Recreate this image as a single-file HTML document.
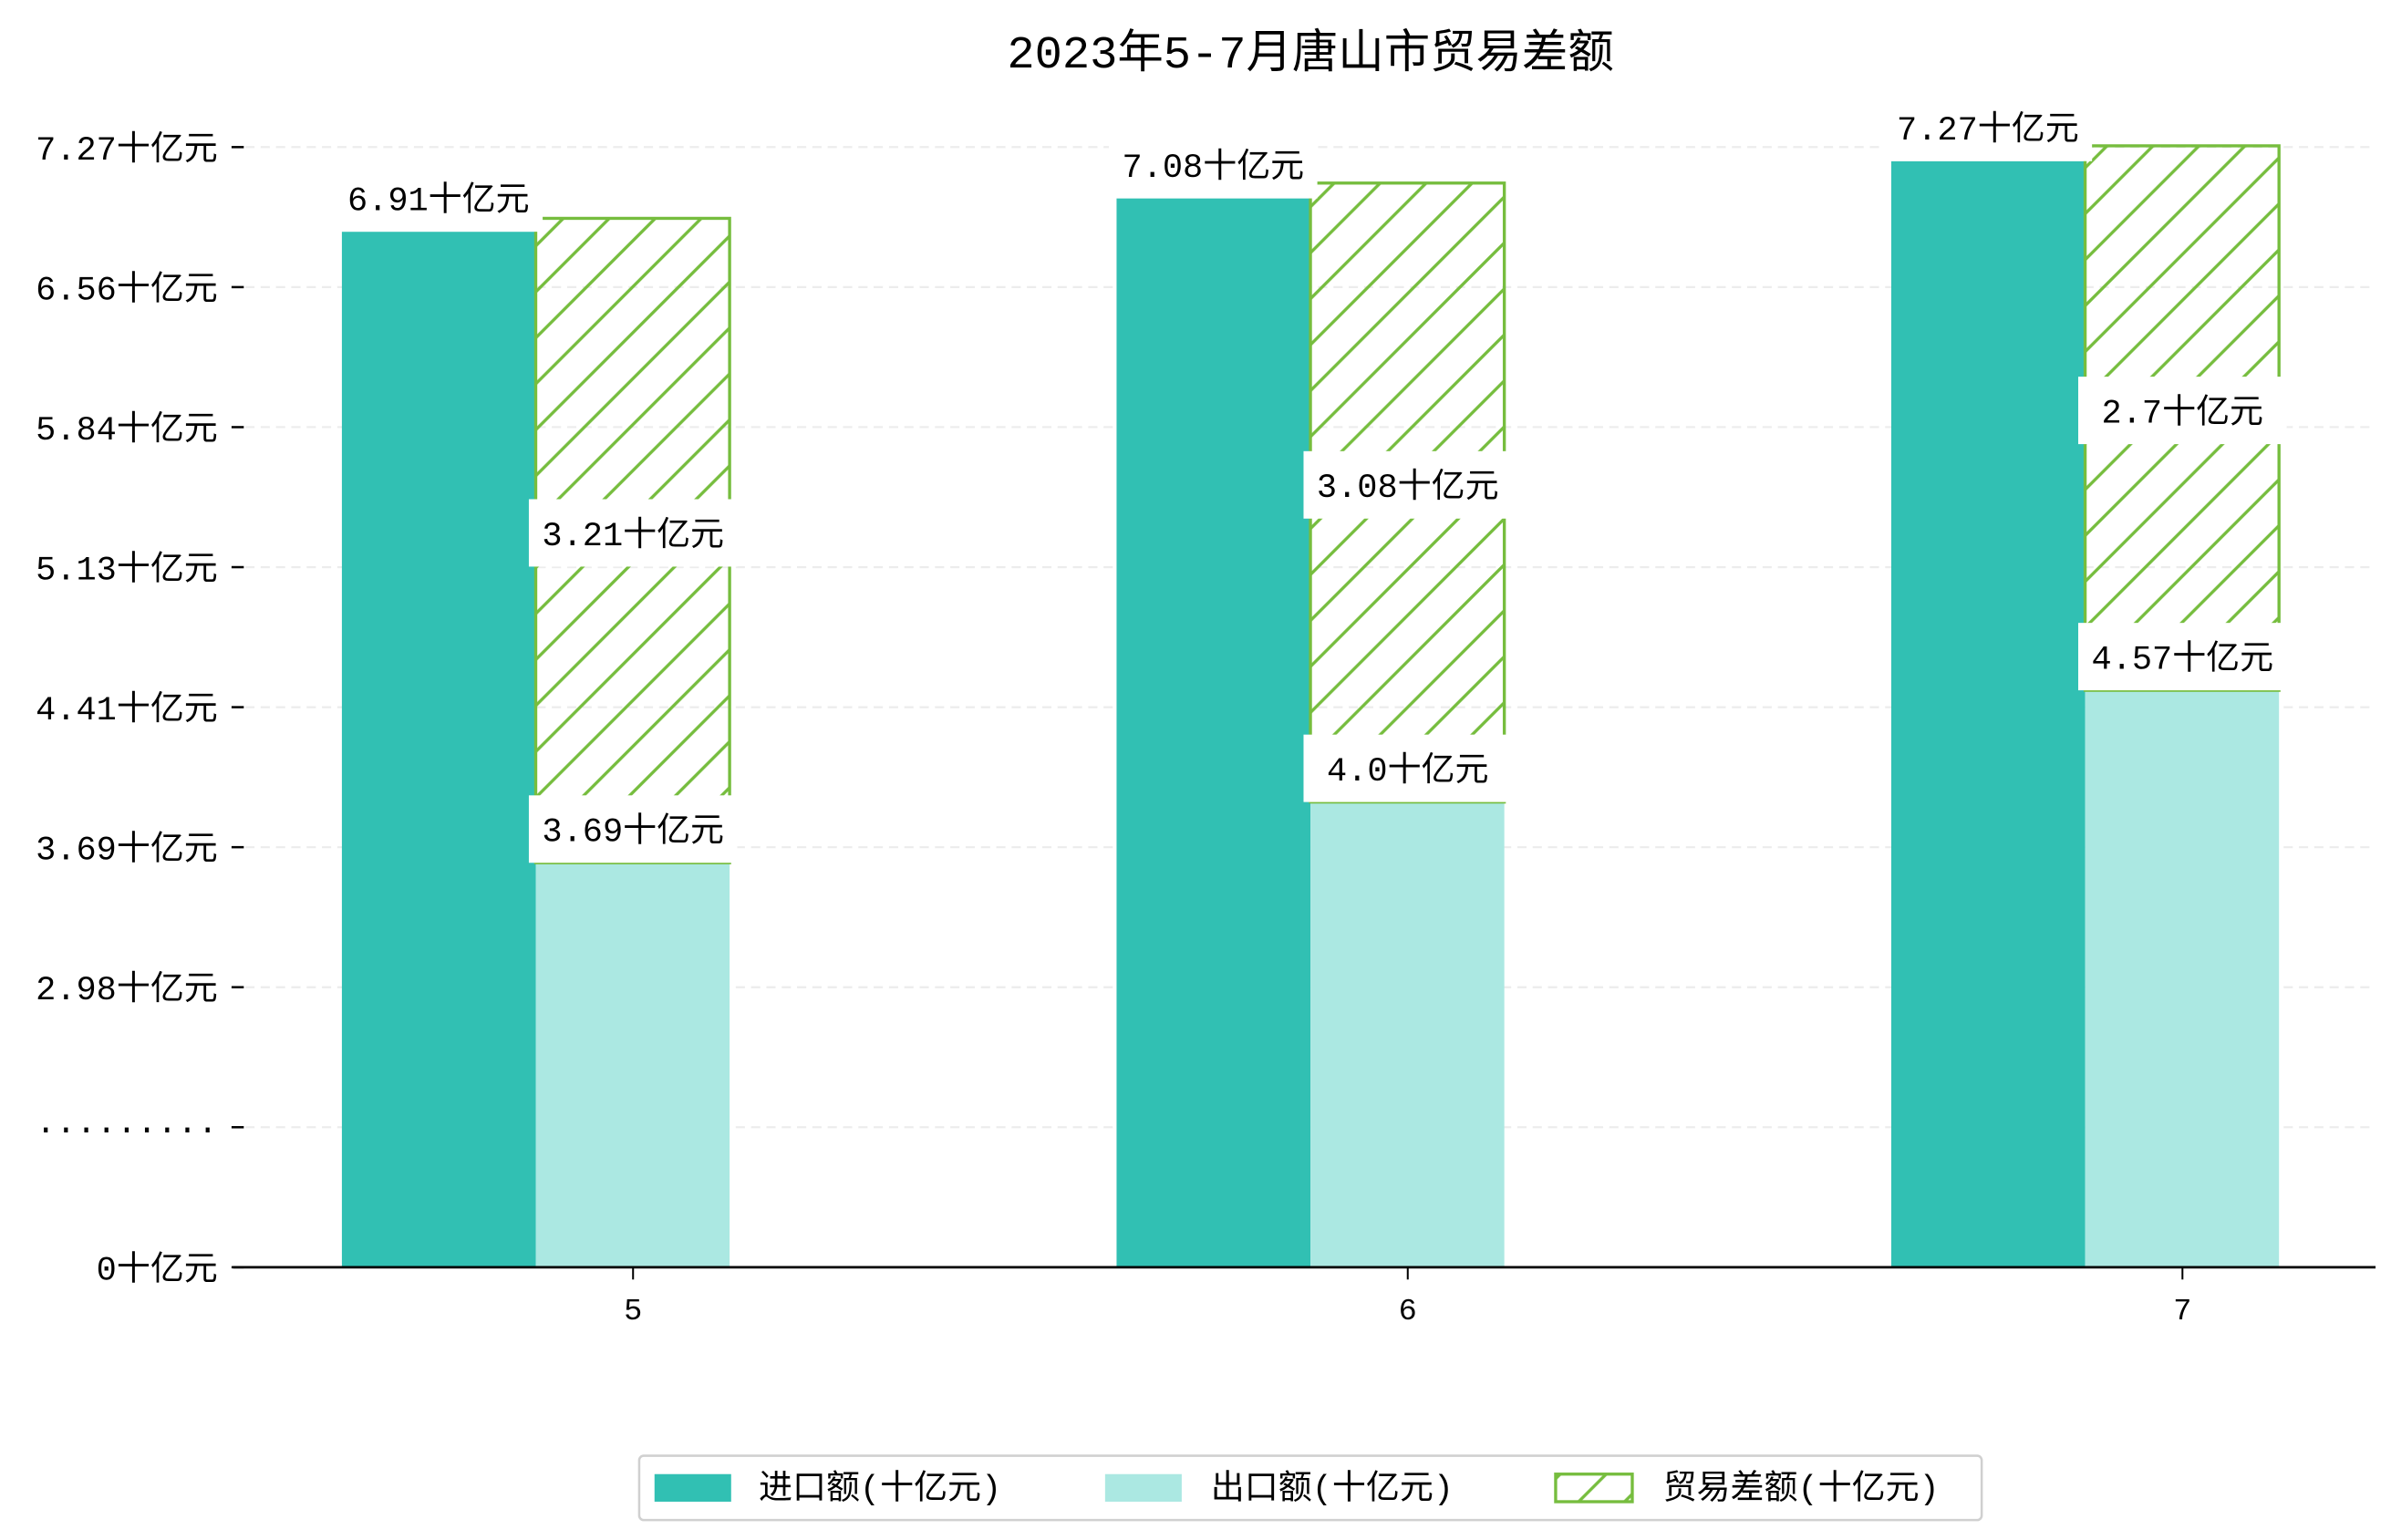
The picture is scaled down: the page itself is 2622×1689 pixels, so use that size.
<!DOCTYPE html>
<html><head><meta charset="utf-8"><style>
html,body{margin:0;padding:0;background:#fff;}
svg{display:block;font-family:"Liberation Mono","Noto Sans CJK SC",monospace;}
</style></head><body>
<svg id="chart" width="2622" height="1689" viewBox="0 0 1560 1005" xmlns="http://www.w3.org/2000/svg">
<defs>
<pattern id="hatch" patternUnits="userSpaceOnUse" width="30" height="30">
<path d="M-5,5 L5,-5 M0,30 L30,0 M25,35 L35,25" stroke="#76bd3e" stroke-width="2"/>
</pattern>
</defs>
<rect width="1560" height="1005" fill="#fff"/>
<text x="855" y="44" text-anchor="middle" font-size="30" fill="#000">2023年5-7月唐山市贸易差额</text>
<g id="grid"></g>
<g id="bars"></g>
<g id="labels"></g>
<line x1="152" y1="827" x2="1550" y2="827" stroke="#000" stroke-width="1.6"/>
<g>
<rect x="417" y="950" width="876" height="42" rx="3" fill="#fff" stroke="#d0d0d0" stroke-width="1.5"/>
<rect x="427" y="962" width="50" height="18" fill="#31c0b3"/>
<text x="495" y="978" font-size="22">进口额(十亿元)</text>
<rect x="721" y="962" width="50" height="18" fill="#abe8e2"/>
<text x="790" y="978" font-size="22">出口额(十亿元)</text>
<rect x="1015" y="962" width="50" height="18" fill="url(#hatch)" stroke="#76bd3e" stroke-width="2"/>
<text x="1085" y="978" font-size="22">贸易差额(十亿元)</text>
</g>
</svg>
<script>
const months = ['5', '6', '7'];
const imports = [6.91, 7.08, 7.27];
const exports = [3.69, 4.0, 4.57];
const balance = [3.21, 3.08, 2.7];
const yTickLabels = ['0十亿元', '·········', '2.98十亿元', '3.69十亿元', '4.41十亿元', '5.13十亿元', '5.84十亿元', '6.56十亿元', '7.27十亿元'];

const NS = 'http://www.w3.org/2000/svg';
const base = 827;
function yScale(v){ return Math.min(base, 1035 - 127.9 * v); }
function xCenter(i){ return 413 + i * 505.5; }
function tickY(i){ return base - i * (base - 96) / (yTickLabels.length - 1); }
function fmt(v){ return Number.isInteger(v) ? v.toFixed(1) : String(v); }
function mk(tag, attrs, parent){
  const e = document.createElementNS(NS, tag);
  for (const k in attrs) e.setAttribute(k, attrs[k]);
  parent.appendChild(e);
  return e;
}
const grid = document.getElementById('grid');
const bars = document.getElementById('bars');
const labels = document.getElementById('labels');

yTickLabels.forEach((t, i) => {
  const y = tickY(i);
  if (i > 0) {
    const g = mk('line', {x1:160, y1:y, x2:1550, y2:y, stroke:'#ececec', 'stroke-width':1.3, 'stroke-dasharray':'6,4'}, grid);
    
    
  }
  const tk = mk('line', {x1:151, y1:y, x2:159, y2:y, stroke:'#000', 'stroke-width':1.5}, grid);
  
  
  const tx = mk('text', {x:142, y:y + 8, 'text-anchor':'end', 'font-size':22}, grid);
  tx.textContent = t;
  
  
});

function boxLabel(text, cx, cy, name){
  const w = 136, h = 44;
  const r = mk('rect', {x:cx - w/2, y:cy - h/2, width:w, height:h, fill:'#fff'}, labels);
  
  
  const t = mk('text', {x:cx, y:cy + 8, 'text-anchor':'middle', 'font-size':22}, labels);
  t.textContent = text;
  
  
}

months.forEach((m, i) => {
  const c = xCenter(i), w = 126.5;
  const yi = yScale(imports[i]);
  const bi = mk('rect', {x:c - 190, y:yi, width:w, height:base - yi, fill:'#31c0b3'}, bars);
  
  
  const ye = yScale(exports[i]);
  const be = mk('rect', {x:c - 63.5, y:ye, width:w, height:base - ye, fill:'#abe8e2'}, bars);
  
  
  const yt = yScale(exports[i] + balance[i]) - 10;
  const bb = mk('rect', {x:c - 63.5, y:yt, width:w, height:ye - yt, fill:'url(#hatch)', stroke:'#76bd3e', 'stroke-width':2}, bars);
  
  

  const tk = mk('line', {x1:c, y1:base, x2:c, y2:base + 8, stroke:'#000', 'stroke-width':1.2}, bars);
  
  
  const xl = mk('text', {x:c, y:base + 34, 'text-anchor':'middle', 'font-size':20}, bars);
  xl.textContent = m;
  
  

  boxLabel(fmt(imports[i]) + '十亿元', c - 127, yi - 22, 'import-value-label');
  boxLabel(fmt(exports[i]) + '十亿元', c, ye - 22, 'export-value-label');
  boxLabel(fmt(balance[i]) + '十亿元', c, (yt + ye) / 2 - 5, 'balance-value-label');
});
</script>
</body></html>
